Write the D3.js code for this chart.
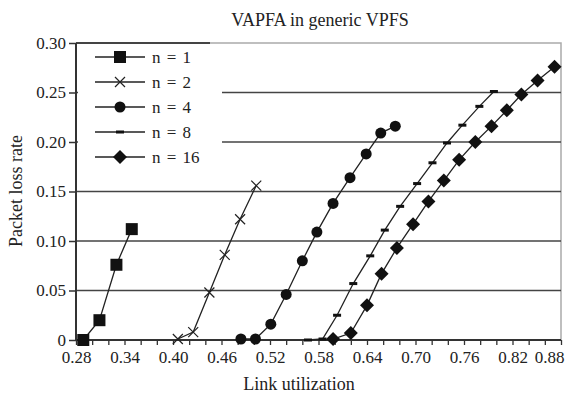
<!DOCTYPE html>
<html>
<head>
<meta charset="utf-8">
<script src="https://cdn.jsdelivr.net/npm/d3@7"></script>
<style>
  body { margin: 0; background: #fff; }
  text { font-family: "Liberation Serif", "Times New Roman", serif; fill: #222; }
</style>
</head>
<body>
<div id="chart-area"></div>
<script>
// data (x = link utilization, y = packet loss rate)
let n1x = [0.289, 0.309, 0.330, 0.349];
let n1y = [0.000, 0.020, 0.076, 0.112];

let n2x = [0.406, 0.425, 0.445, 0.464, 0.483, 0.503];
let n2y = [0.001, 0.008, 0.048, 0.086, 0.122, 0.156];

let n4x = [0.484, 0.502, 0.521, 0.540, 0.560, 0.578, 0.598, 0.619, 0.639, 0.657, 0.675];
let n4y = [0.001, 0.001, 0.016, 0.046, 0.080, 0.109, 0.138, 0.164, 0.188, 0.209, 0.216];

let n8x = [0.567, 0.585, 0.603, 0.623, 0.644, 0.662, 0.681, 0.702, 0.721, 0.739, 0.758, 0.779, 0.797];
let n8y = [0.000, 0.001, 0.025, 0.057, 0.085, 0.111, 0.135, 0.158, 0.179, 0.199, 0.217, 0.236, 0.251];

let n16x = [0.598, 0.620, 0.640, 0.658, 0.677, 0.697, 0.716, 0.735, 0.754, 0.774, 0.794, 0.813, 0.831, 0.851, 0.872];
let n16y = [0.001, 0.007, 0.035, 0.067, 0.093, 0.117, 0.140, 0.161, 0.182, 0.200, 0.216, 0.232, 0.248, 0.262, 0.276];

let seriesNames = ["n = 1", "n = 2", "n = 4", "n = 8", "n = 16"];
let markerTypes = ["square", "cross", "circle", "dash", "diamond"];

let yTicks = [0, 0.05, 0.10, 0.15, 0.20, 0.25, 0.30];
let yTickLabels = ["0", "0.05", "0.10", "0.15", "0.20", "0.25", "0.30"];
let xLabelTicks = [0.28, 0.34, 0.40, 0.46, 0.52, 0.58, 0.64, 0.70, 0.76, 0.82, 0.88];

let series = [
    {name: seriesNames[0], marker: markerTypes[0], xs: n1x, ys: n1y},
    {name: seriesNames[1], marker: markerTypes[1], xs: n2x, ys: n2y},
    {name: seriesNames[2], marker: markerTypes[2], xs: n4x, ys: n4y},
    {name: seriesNames[3], marker: markerTypes[3], xs: n8x, ys: n8y},
    {name: seriesNames[4], marker: markerTypes[4], xs: n16x, ys: n16y}
];

// plot box
let margin = {top: 43, right: 12, bottom: 56, left: 76};
let W = 573, H = 396;
let width = W - margin.left - margin.right,
    height = H - margin.top - margin.bottom;

let svg = d3.select("#chart-area")
    .append("svg")
    .attr("width", W)
    .attr("height", H);

let g = svg.append("g")
    .attr("transform", "translate(" + margin.left + "," + margin.top + ")");

let x = d3.scaleLinear().domain([0.28, 0.88]).range([0, width]);
let y = d3.scaleLinear().domain([0, 0.30]).range([height, 0]);

// gray plot border (top + right)
g.append("path")
    .attr("d", "M0,0H" + width + "V" + height)
    .attr("fill", "none")
    .attr("stroke", "#aaa")
    .attr("stroke-width", 1.5);

// gridlines
g.selectAll(".grid")
    .data(yTicks.slice(1, 6))
    .enter().append("line")
    .attr("class", "grid")
    .attr("x1", 0).attr("x2", width)
    .attr("y1", d => y(d)).attr("y2", d => y(d))
    .attr("stroke", "#444")
    .attr("stroke-width", 1.5);

// dark part of the top line
g.append("line")
    .attr("x1", 0).attr("x2", 134)
    .attr("y1", y(0.30)).attr("y2", y(0.30))
    .attr("stroke", "#444")
    .attr("stroke-width", 2);

// y axis
let yAxis = d3.axisLeft(y)
    .tickValues(yTicks)
    .tickFormat((d, i) => yTickLabels[i])
    .tickSize(7)
    .tickPadding(3);
let ya = g.append("g").call(yAxis);
ya.select(".domain").attr("stroke", "#333").attr("stroke-width", 2).attr("d", "M0,0V" + height);
ya.selectAll(".tick line").attr("stroke", "#333").attr("stroke-width", 1.5);
ya.selectAll(".tick text")
    .style("font-family", "Liberation Serif, serif")
    .style("font-size", "17px")
    .attr("fill", "#222");

// x axis: minor tick every 0.02, labels every 0.06
let xAxis = d3.axisBottom(x)
    .tickValues(d3.range(0, 31).map(i => 0.28 + i * 0.02))
    .tickFormat(d => {
        let hit = xLabelTicks.find(v => Math.abs(v - d) < 1e-6);
        return hit === undefined ? "" : d3.format(".2f")(hit);
    })
    .tickSize(5)
    .tickPadding(6);
let xa = g.append("g")
    .attr("transform", "translate(0," + height + ")")
    .call(xAxis);
xa.select(".domain").attr("stroke", "#333").attr("stroke-width", 2).attr("d", "M0,0H" + width);
xa.selectAll(".tick line").attr("stroke", "#333").attr("stroke-width", 1.3);
xa.selectAll(".tick text")
    .style("font-family", "Liberation Serif, serif")
    .style("font-size", "17px")
    .attr("fill", "#222");
// last label sits a little left so it stays in the picture
xa.selectAll(".tick text").filter(d => d > 0.87).attr("dx", "-12");

// markers
function drawMarker(sel, type) {
    if (type == "square") {
        sel.append("rect").attr("x", -6).attr("y", -6).attr("width", 12).attr("height", 12).attr("fill", "#111");
    } else if (type == "cross") {
        sel.append("path").attr("d", "M-5,-5L5,5M-5,5L5,-5").attr("stroke", "#222").attr("stroke-width", 1.2);
    } else if (type == "circle") {
        sel.append("circle").attr("r", 5.5).attr("fill", "#111");
    } else if (type == "dash") {
        sel.append("rect").attr("x", -4).attr("y", -1.5).attr("width", 8).attr("height", 3).attr("fill", "#111");
    } else if (type == "diamond") {
        sel.append("path").attr("d", "M0,-7L7,0L0,7L-7,0Z").attr("fill", "#111");
    }
}

let line = d3.line().x(d => x(d[0])).y(d => y(d[1]));

series.forEach(s => {
    let pts = s.xs.map((v, i) => [v, s.ys[i]]);
    g.append("path")
        .datum(pts)
        .attr("d", line)
        .attr("fill", "none")
        .attr("stroke", "#222")
        .attr("stroke-width", 1.3);

    g.selectAll(".m-" + s.marker)
        .data(pts)
        .enter().append("g")
        .attr("class", "m-" + s.marker)
        .attr("transform", d => "translate(" + x(d[0]) + "," + y(d[1]) + ")")
        .call(sel => drawMarker(sel, s.marker));
});

// legend (white box covering the gridlines)
let legend = g.append("g").attr("transform", "translate(2,2)");
legend.append("rect")
    .attr("x", 0).attr("y", 0)
    .attr("width", 144).attr("height", 128)
    .attr("fill", "#fff");

let entries = legend.selectAll(".entry")
    .data(series)
    .enter().append("g")
    .attr("class", "entry")
    .attr("transform", (d, i) => "translate(0," + (12 + i * 25) + ")");

entries.append("line")
    .attr("x1", 17).attr("x2", 67)
    .attr("y1", 0).attr("y2", 0)
    .attr("stroke", "#222")
    .attr("stroke-width", 1.5);

entries.append("g")
    .attr("transform", "translate(42,0)")
    .each(function(d) { drawMarker(d3.select(this), d.marker); });

entries.append("text")
    .attr("x", 74)
    .attr("y", 6)
    .style("font-size", "17px")
    .style("word-spacing", "2px")
    .text(d => d.name);

// titles
svg.append("text")
    .attr("x", 320)
    .attr("y", 26)
    .attr("text-anchor", "middle")
    .style("font-size", "18px")
    .text("VAPFA in generic VPFS");

svg.append("text")
    .attr("x", 299)
    .attr("y", 390)
    .attr("text-anchor", "middle")
    .style("font-size", "18px")
    .text("Link utilization");

svg.append("text")
    .attr("transform", "translate(22,191) rotate(-90)")
    .attr("text-anchor", "middle")
    .style("font-size", "18px")
    .text("Packet loss rate");
</script>
</body>
</html>
